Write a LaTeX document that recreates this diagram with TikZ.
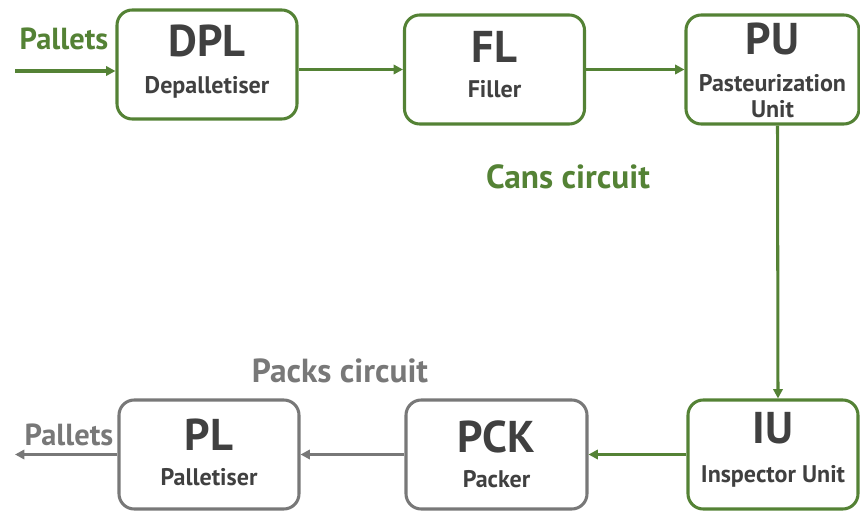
\documentclass[tikz,border=0pt]{standalone}
\usepackage{fontspec}
\setmainfont{PT Sans}
\usetikzlibrary{arrows.meta}
\definecolor{cansgreen}{HTML}{548235}
\definecolor{packsgray}{HTML}{787878}
\definecolor{unittext}{HTML}{404040}

\begin{document}
\begin{tikzpicture}[x=0.03cm,y=-0.03cm]
      \tikzstyle{every node}+=[inner sep=0pt]
      \tikzstyle{unitbox}=[draw, line width=2.6pt, rounded corners=13pt, minimum width=5.4cm, minimum height=3.27cm]
      \tikzstyle{cansbox}=[unitbox, draw=cansgreen]
      \tikzstyle{packsbox}=[unitbox, draw=packsgray]
      \tikzstyle{unitname}=[anchor=base, text=unittext, font=\bfseries\fontsize{38}{40}\selectfont]
      \tikzstyle{unitdesc}=[anchor=base, text=unittext, font=\bfseries\fontsize{20.5}{22}\selectfont]
      \tikzstyle{pallets}=[anchor=base, font=\bfseries\fontsize{26}{28}\selectfont]
      \tikzstyle{circuit}=[anchor=base, font=\bfseries\fontsize{28.5}{30}\selectfont]
      \tikzstyle{cansflow}=[draw=cansgreen, line width=2.6pt, -{Triangle[length=8pt,width=8pt]}]
      \tikzstyle{packsflow}=[draw=packsgray, line width=2.6pt, -{Triangle[length=8pt,width=8pt]}]
      \path[use as bounding box] (0,0) rectangle (860,511);
      % cans circuit
      \node [cansbox] (dpl) at (207,64.5) {};
      \node [unitname] (dplname) at (207,57) {DPL};
      \node [unitdesc] (dpldesc) at (207,94) {Depalletiser};
      \node [cansbox] (fl) at (494.5,69.5) {};
      \node [unitname] (flname) at (494.5,63) {FL};
      \node [unitdesc] (fldesc) at (494.5,98) {Filler};
      \node [cansbox, minimum width=5.19cm] (pu) at (772.5,69.5) {};
      \node [unitname] (puname) at (772.5,55) {PU};
      \node [unitdesc] (pudesc) at (772.5,92) {Pasteurization};
      \node [unitdesc] (pudesc2) at (772.5,118) {Unit};
      \node [cansbox, minimum width=5.1cm] (iu) at (773,454.5) {};
      \node [unitname] (iuname) at (773,443) {IU};
      \node [unitdesc] (iudesc) at (773,482) {Inspector Unit};
      % packs circuit
      \node [packsbox, minimum width=5.43cm] (pck) at (496.5,454.5) {};
      \node [unitname] (pckname) at (496.5,452) {PCK};
      \node [unitdesc] (pckdesc) at (496.5,487) {Packer};
      \node [packsbox] (pl) at (209,454.5) {};
      \node [unitname] (plname) at (209,450) {PL};
      \node [unitdesc] (pldesc) at (209,485) {Palletiser};
      % labels
      \node [pallets, text=cansgreen] (palletsin) at (64,50) {Pallets};
      \node [circuit, text=cansgreen] (cans) at (568,189) {Cans circuit};
      \node [circuit, text=packsgray] (packs) at (340,383) {Packs circuit};
      \node [pallets, text=packsgray] (palletsout) at (69,445) {Pallets};
      % flows
      \coordinate (instart) at (15,71);
      \coordinate (outend) at (15,454.5);
      \draw [cansflow] (instart) -- (instart -| dpl.west);
      \draw [cansflow] (fl.west -| dpl.east) -- (fl.west);
      \draw [cansflow] (fl.east) -- (pu.west);
      \draw [cansflow] ([xshift=0.15cm]pu.south) -- ([xshift=0.15cm]iu.north);
      \draw [cansflow] (iu.west) -- (pck.east);
      \draw [packsflow] (pck.west) -- (pl.east);
      \draw [packsflow] (pl.west) -- (outend);
    \end{tikzpicture}
\end{document}
